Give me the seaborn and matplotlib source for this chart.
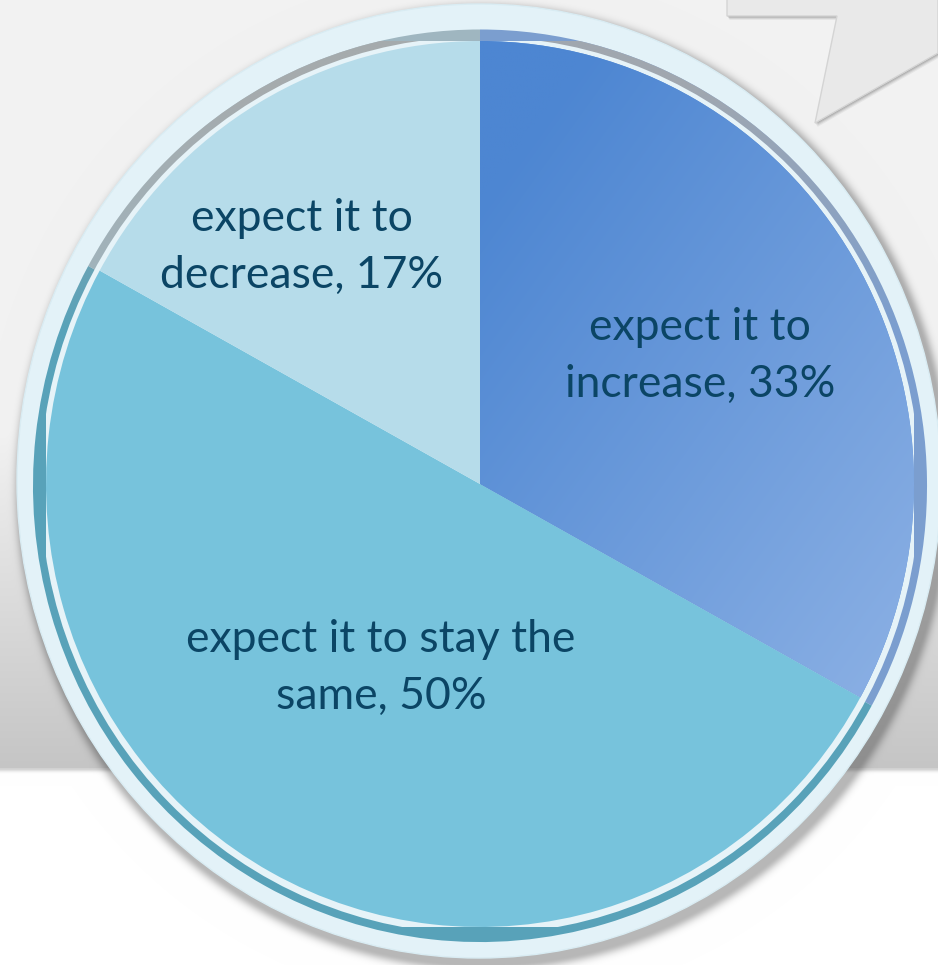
import numpy as np
import matplotlib
matplotlib.use("Agg")
import matplotlib.pyplot as plt
from matplotlib.patches import Ellipse, Polygon
from matplotlib.colors import to_rgb
import seaborn as sns

# ---- data -------------------------------------------------------------
labels = ["expect it to\nincrease, 33%",
          "expect it to stay the\nsame, 50%",
          "expect it to\ndecrease, 17%"]
shares = [33, 50, 17]

# ---- style ------------------------------------------------------------
sns.set_theme(style="white")
plt.rcParams["font.family"] = ["Lato", "DejaVu Sans"]

slice_colors = ["#5a8fd6", "#77c3dc", "#b6dcea"]
rim_colors = ["#7b9ecf", "#58a2b9", "#9fb6c0"]
text_color = "#0b4565"
# label anchors inside the pie, in pie-axes units
label_pos = [(0.507, 0.289), (-0.228, -0.415), (-0.410, 0.535)]

W, H = 938, 965
fig = plt.figure(figsize=(W / 100, H / 100), dpi=100)

# background canvas in pixel coordinates
bg = fig.add_axes([0, 0, 1, 1])
bg.set_xlim(0, W)
bg.set_ylim(H, 0)
bg.axis("off")

yy, xx = np.mgrid[0:H, 0:W].astype(float)
img = np.ones((H, W, 3))
band_bottom = 768
top_c = np.array(to_rgb("#f2f2f2"))
low_c = np.array(to_rgb("#c5c5c5"))
t = np.clip((yy - 430) / (band_bottom - 430), 0, 1)[..., None]
grey = top_c * (1 - t) + low_c * t
img = np.where((yy < band_bottom)[..., None], grey, img)
# soft shadow under the grey band
sh = np.exp(-((yy - band_bottom) / 3.0) ** 2) * (yy >= band_bottom)
img = img * (1 - 0.18 * sh[..., None])

# drop shadow of the round plate
cx, cy, rx, ry = 479, 481, 462, 477
d = np.sqrt(((xx - cx - 4) / rx) ** 2 + ((yy - cy - 6) / ry) ** 2)
edge = (d - 1) * 470
ring_sh = np.where(edge > 0, np.exp(-(edge / 7.0) ** 2), 1.0)
img = img * (1 - 0.28 * ring_sh[..., None])
bg.imshow(img, extent=(0, W, H, 0), zorder=0, interpolation="bilinear")

# speech-bubble callout in the top right corner
callout = [(727, -5), (727, 16), (837, 16), (815, 123), (938, 53), (938, -5)]
for k, a in [(4, 0.05), (3, 0.07), (2, 0.1), (1, 0.12)]:
    bg.add_patch(Polygon([(x + k * 0.6, y + k) for x, y in callout],
                         closed=True, facecolor="#000000", alpha=a,
                         edgecolor="none", zorder=1))
bg.add_patch(Polygon(callout, closed=True, facecolor="#e9e9e9",
                     edgecolor="#d4d4d4", lw=1.0, zorder=2))

# light outer plate
bg.add_patch(Ellipse((cx, cy), 2 * rx, 2 * ry, facecolor="#e3f2f8",
                     edgecolor="#d9ecf3", lw=1, zorder=3))

# ---- pie --------------------------------------------------------------
pcx, pcy, prx, pry = 480, 484, 434, 443
ax = fig.add_axes([(pcx - prx) / W, (H - pcy - pry) / H, 2 * prx / W, 2 * pry / H])
ax.set_zorder(5)
ax.patch.set_alpha(0)

# darker rim slightly larger than the pie, sitting a touch lower
rim, _ = ax.pie(shares, colors=rim_colors, startangle=90, counterclock=False,
                radius=1.03, center=(0, -0.004), wedgeprops=dict(linewidth=0))
# grey shading fading out towards the middle of the rim
rim_outline = Ellipse((0, -0.004), 2 * 1.03, 2 * 1.03, transform=ax.transData)
ry_, rx_ = np.mgrid[1.1:-1.1:300j, 0:1:2j]
shade = np.zeros((300, 2, 4))
shade[..., :3] = to_rgb("#a7a9aa")
shade[..., 3] = np.clip((ry_ - 0.35) / 0.55, 0, 1) * 0.85
sim = ax.imshow(shade, extent=(-1.1, 1.1, -1.1, 1.1), zorder=1.5,
                interpolation="bilinear", aspect="auto")
sim.set_clip_path(rim_outline)

ax.add_patch(Ellipse((0, -0.003), 2 * 1.013, 2 * 1.013, facecolor="#e6f3f8",
                     edgecolor="none", zorder=2))
wedges, _ = ax.pie(shares, colors=slice_colors, startangle=90,
                   counterclock=False, radius=1.0,
                   wedgeprops=dict(linewidth=0))
for w in wedges:
    w.set_zorder(3)

# gradient fill for the "increase" slice
g_a = np.array(to_rgb("#4d86d2"))
g_b = np.array(to_rgb("#8eb2e5"))
gy, gx = np.mgrid[1:-1:200j, -1:1:200j]
s = np.clip((gx * 0.75 - gy * 0.55 + 0.35) / 1.4, 0, 1)[..., None]
grad = g_a * (1 - s) + g_b * s
im = ax.imshow(grad, extent=(-1, 1, -1, 1), zorder=4, interpolation="bilinear")
im.set_clip_path(wedges[0])

ax.set_xlim(-1, 1)
ax.set_ylim(-1, 1)
ax.set_aspect("auto")
ax.axis("off")

for lab, (lx, ly) in zip(labels, label_pos):
    ax.text(lx, ly, lab, ha="center", va="center", fontsize=32,
            color=text_color, linespacing=1.48, zorder=6)

fig.savefig("out.png", dpi=100)
